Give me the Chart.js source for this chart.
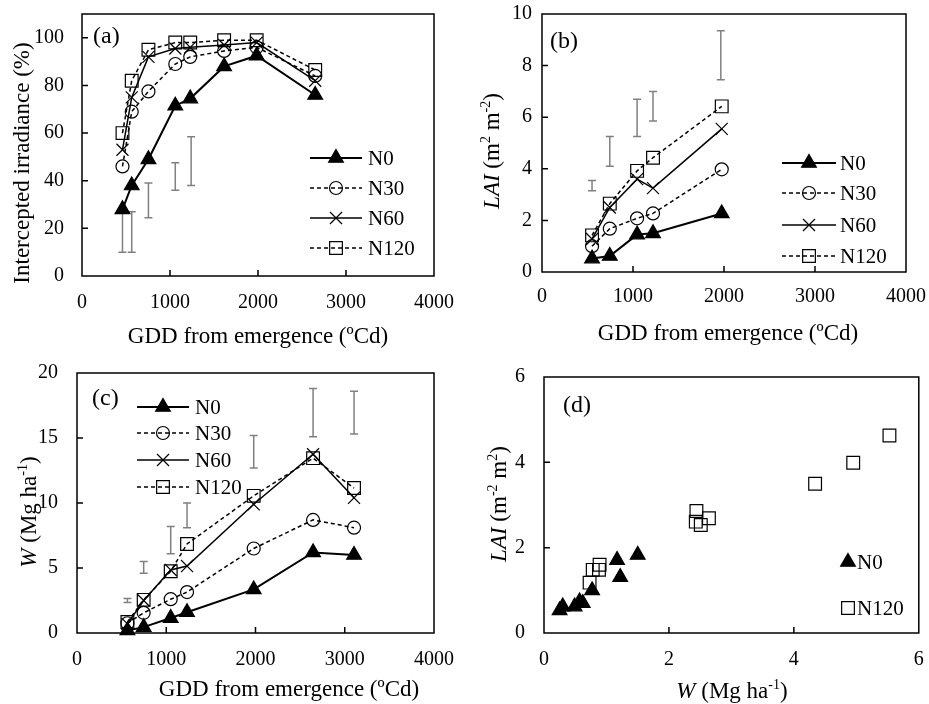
<!DOCTYPE html>
<html>
<head>
<meta charset="utf-8">
<title>Canopy growth under nitrogen rates</title>
<script src="https://cdn.jsdelivr.net/npm/chart.js@4.4.1/dist/chart.umd.min.js"></script>
<style>
  body { margin: 0; background: #fff; }
  #fig { position: relative; width: 929px; height: 704px; background: #fff; }
  .panel { position: absolute; }
</style>
</head>
<body>
<div id="fig">
  <div class="panel" style="left:0;top:0;width:464px;height:350px"><canvas id="chartA"></canvas></div>
  <div class="panel" style="left:464px;top:0;width:465px;height:350px"><canvas id="chartB"></canvas></div>
  <div class="panel" style="left:0;top:350px;width:464px;height:354px"><canvas id="chartC"></canvas></div>
  <div class="panel" style="left:464px;top:350px;width:465px;height:354px"><canvas id="chartD"></canvas></div>
</div>
<script>
// ---- data -------------------------------------------------------------
const seriesNames = ["N0", "N30", "N60", "N120"];

// (a) intercepted irradiance (%) vs GDD
const gddA = [460, 565, 755, 1060, 1230, 1615, 1985, 2650];
const irrN0 = [28, 38, 49, 71.5, 74.5, 88, 92.5, 76];
const irrN30 = [46, 69, 77.5, 89, 92, 94.5, 96, 84];
const irrN60 = [53, 75, 92, 95.5, 96, 97, 98, 82];
const irrN120 = [60, 82, 95, 98, 98, 99, 99, 86.5];
const errGddA = [460, 565, 755, 1060, 1240];
const errLoA = [10, 10, 24.5, 36, 38];
const errHiA = [27.5, 27, 39, 47.5, 58.5];

// (b) LAI vs GDD
const gddB = [550, 745, 1045, 1220, 1975];
const laiN0 = [0.52, 0.62, 1.45, 1.5, 2.27];
const laiN30 = [1.0, 1.68, 2.08, 2.27, 3.98];
const laiN60 = [1.28, 2.5, 3.6, 3.25, 5.55];
const laiN120 = [1.42, 2.65, 3.92, 4.43, 6.42];
const errGddB = [550, 745, 1045, 1220, 1965];
const errLoB = [3.15, 4.1, 5.25, 5.85, 7.45];
const errHiB = [3.55, 5.25, 6.7, 7.0, 9.35];

// (c) biomass W (Mg/ha) vs GDD
const gddC = [565, 747, 1050, 1233, 1980, 2645, 3104];
const wN0 = [0.2, 0.45, 1.15, 1.6, 3.35, 6.2, 6.0];
const wN30 = [0.75, 1.55, 2.6, 3.15, 6.5, 8.7, 8.1];
const wN60 = [0.7, 2.5, 4.85, 5.15, 9.9, 13.75, 10.4];
const wN120 = [0.85, 2.55, 4.75, 6.85, 10.55, 13.45, 11.15];
const errGddC = [565, 747, 1050, 1233, 1980, 2645, 3104];
const errLoC = [2.35, 4.6, 6.1, 8.1, 12.7, 15.1, 15.3];
const errHiC = [2.65, 5.5, 8.2, 10.0, 15.2, 18.8, 18.6];

// (d) LAI vs W
const wD0 = [0.25, 0.30, 0.49, 0.57, 0.62, 0.77, 1.17, 1.22, 1.50];
const laiD0 = [0.53, 0.62, 0.62, 0.74, 0.70, 1.0, 1.71, 1.31, 1.83];
const wD120 = [0.73, 0.78, 0.88, 0.89, 2.44, 2.43, 2.51, 2.64, 4.34, 4.95, 5.53];
const laiD120 = [1.18, 1.48, 1.48, 1.60, 2.86, 2.61, 2.53, 2.69, 3.50, 3.99, 4.63];

// tick values
const gddTicks = [0, 1000, 2000, 3000, 4000];
const irrTicks = [0, 20, 40, 60, 80, 100];
const laiTicks = [0, 2, 4, 6, 8, 10];
const wTicks = [0, 5, 10, 15, 20];
const wTicksD = [0, 2, 4, 6];
const laiTicksD = [0, 2, 4, 6];

// ---- styles -----------------------------------------------------------
const SERIF = "'Liberation Serif', 'Times New Roman', serif";
const ERR_COLOR = "#808080";

const markerStyles = {
  N0: { pointStyle: "triangle", pointRadius: 8.5, pointBackgroundColor: "#000", borderWidth: 2, borderDash: [] },
  N30: { pointStyle: "circle", pointRadius: 6.5, pointBackgroundColor: "rgba(0,0,0,0)", borderWidth: 1.5, borderDash: [4, 3] },
  N60: { pointStyle: "crossRot", pointRadius: 8.5, pointBackgroundColor: "rgba(0,0,0,0)", borderWidth: 1.5, borderDash: [] },
  N120: { pointStyle: "rect", pointRadius: 9, pointBackgroundColor: "rgba(0,0,0,0)", borderWidth: 1.5, borderDash: [4, 3] }
};

const toPoints = (xs, ys) => xs.map((x, i) => ({ x: x, y: ys[i] }));

const makeDataset = (name, xs, ys, showLine) => Object.assign({
  label: name,
  data: toPoints(xs, ys),
  showLine: showLine,
  borderColor: "#000",
  pointBorderColor: "#000",
  pointBorderWidth: 1.2,
  tension: 0,
  clip: false
}, markerStyles[name]);

// text with italic parts and superscripts, centred on (cx, cy)
function drawRich(ctx, segs, cx, cy, size, rotate) {
  const supSize = Math.round(size * 0.62);
  const fontOf = s => (s.i ? "italic " : "") + (s.sup ? supSize : size) + "px " + SERIF;
  ctx.save();
  ctx.translate(cx, cy);
  if (rotate) ctx.rotate(-Math.PI / 2);
  let total = 0;
  const widths = segs.map(s => {
    ctx.font = fontOf(s);
    const w = ctx.measureText(s.t).width;
    total += w;
    return w;
  });
  let x = -total / 2;
  const base = size * 0.34;
  ctx.fillStyle = "#000";
  ctx.textBaseline = "alphabetic";
  ctx.textAlign = "left";
  segs.forEach((s, i) => {
    ctx.font = fontOf(s);
    ctx.fillText(s.t, x, s.sup ? base - size * 0.4 : base);
    x += widths[i];
  });
  ctx.restore();
}

function drawMarker(ctx, ds, x, y) {
  ctx.save();
  ctx.setLineDash([]);
  ctx.fillStyle = ds.pointBackgroundColor;
  ctx.strokeStyle = "#000";
  ctx.lineWidth = ds.pointBorderWidth;
  Chart.helpers.drawPoint(ctx, {
    pointStyle: ds.pointStyle,
    radius: ds.pointRadius,
    rotation: 0,
    borderWidth: ds.pointBorderWidth
  }, x, y);
  ctx.restore();
}

// frame, inward ticks, error bars, legend, labels
const panelDecor = {
  id: "panelDecor",
  beforeDatasetsDraw(chart, args, opts) {
    const eb = opts.errors;
    if (!eb) return;
    const { ctx, scales: { x, y } } = chart;
    ctx.save();
    ctx.strokeStyle = ERR_COLOR;
    ctx.lineWidth = 1.5;
    eb.x.forEach((gx, i) => {
      const px = x.getPixelForValue(gx);
      const lo = y.getPixelForValue(eb.lo[i]);
      const hi = y.getPixelForValue(eb.hi[i]);
      ctx.beginPath();
      ctx.moveTo(px, lo); ctx.lineTo(px, hi);
      ctx.moveTo(px - 4, lo); ctx.lineTo(px + 4, lo);
      ctx.moveTo(px - 4, hi); ctx.lineTo(px + 4, hi);
      ctx.stroke();
    });
    ctx.restore();
  },
  afterDraw(chart, args, opts) {
    const { ctx, chartArea: a, scales: { x, y } } = chart;
    ctx.save();
    ctx.strokeStyle = "#000";
    ctx.lineWidth = 1.5;
    ctx.strokeRect(a.left, a.top, a.right - a.left, a.bottom - a.top);
    ctx.beginPath();
    x.ticks.forEach(t => {
      const px = x.getPixelForValue(t.value);
      if (px > a.left + 1 && px < a.right - 1) { ctx.moveTo(px, a.bottom); ctx.lineTo(px, a.bottom - 6); }
    });
    y.ticks.forEach(t => {
      const py = y.getPixelForValue(t.value);
      if (py > a.top + 1 && py < a.bottom - 1) { ctx.moveTo(a.left, py); ctx.lineTo(a.left + 6, py); }
    });
    ctx.stroke();

    // panel letter
    ctx.fillStyle = "#000";
    ctx.font = "24px " + SERIF;
    ctx.textBaseline = "middle";
    ctx.textAlign = "left";
    ctx.fillText(opts.label.text, opts.label.x, opts.label.y);

    drawRich(ctx, opts.yTitle.segs, opts.yTitle.x, opts.yTitle.y, 23, true);
    drawRich(ctx, opts.xTitle.segs, opts.xTitle.x, opts.xTitle.y, 23, false);

    // legend
    const lg = opts.legend;
    chart.data.datasets.forEach((ds, i) => {
      const ly = lg.rows[i];
      if (!lg.markerOnly) {
        ctx.save();
        ctx.strokeStyle = "#000";
        ctx.lineWidth = ds.borderWidth;
        ctx.setLineDash(ds.borderDash);
        ctx.beginPath();
        ctx.moveTo(lg.x0, ly); ctx.lineTo(lg.x1, ly);
        ctx.stroke();
        ctx.restore();
      }
      drawMarker(ctx, ds, lg.marker, ly);
      ctx.fillStyle = "#000";
      ctx.font = "21px " + SERIF;
      ctx.textBaseline = "middle";
      ctx.textAlign = "left";
      ctx.fillText(ds.label, lg.text, ly + 1);
    });
    ctx.restore();
  }
};

function makeScales(xr, yr) {
  const tickFont = { family: SERIF, size: 20 };
  const axis = (r, horiz) => ({
    type: "linear",
    min: r.min,
    max: r.max,
    afterBuildTicks: s => { s.ticks = r.ticks.map(v => ({ value: v })); },
    afterFit: s => {
      // fixed axis box; no extra room for overhanging labels
      if (horiz) s.height = r.size; else s.width = r.size;
      s.paddingTop = 0; s.paddingBottom = 0;
      s.paddingLeft = 0; s.paddingRight = 0;
    },
    grid: { display: false, drawTicks: false },
    border: { display: false },
    ticks: {
      font: tickFont,
      color: "#000",
      padding: r.pad,
      maxRotation: 0,
      autoSkip: false,
      callback: v => String(v)
    }
  });
  return { x: axis(xr, true), y: axis(yr, false) };
}

function makeChart(id, datasets, scales, padding, decor) {
  return new Chart(document.getElementById(id), {
    type: "scatter",
    data: { datasets: datasets },
    options: {
      responsive: true,
      maintainAspectRatio: false,
      animation: false,
      layout: { padding: padding },
      scales: scales,
      plugins: {
        legend: { display: false },
        tooltip: { enabled: false },
        panelDecor: decor
      },
      events: []
    },
    plugins: [panelDecor]
  });
}

const gddTitle = [{ t: "GDD from emergence (ºCd)" }];
const wTitle = [{ t: "W", i: true }, { t: " (Mg ha" }, { t: "-1", sup: true }, { t: ")" }];

// (a)
makeChart("chartA",
  [makeDataset("N0", gddA, irrN0, true), makeDataset("N30", gddA, irrN30, true),
   makeDataset("N60", gddA, irrN60, true), makeDataset("N120", gddA, irrN120, true)],
  makeScales({ min: 0, max: 4000, ticks: gddTicks, size: 74, pad: 15 },
             { min: 0, max: 110, ticks: irrTicks, size: 82, pad: 18 }),
  { top: 14, right: 30, left: 0, bottom: 0 },
  {
    label: { text: "(a)", x: 93, y: 37 },
    yTitle: { segs: [{ t: "Intercepted irradiance (%)" }], x: 21, y: 163 },
    xTitle: { segs: gddTitle, x: 258, y: 335 },
    legend: { x0: 310, x1: 362, marker: 336, text: 368, rows: [158, 188, 218, 248] },
    errors: { x: errGddA, lo: errLoA, hi: errHiA }
  });

// (b)
makeChart("chartB",
  [makeDataset("N0", gddB, laiN0, true), makeDataset("N30", gddB, laiN30, true),
   makeDataset("N60", gddB, laiN60, true), makeDataset("N120", gddB, laiN120, true)],
  makeScales({ min: 0, max: 4000, ticks: gddTicks, size: 78, pad: 13 },
             { min: 0, max: 10, ticks: laiTicks, size: 78, pad: 10 }),
  { top: 14, right: 23, left: 0, bottom: 0 },
  {
    label: { text: "(b)", x: 86, y: 42 },
    yTitle: { segs: [{ t: "LAI", i: true }, { t: " (m" }, { t: "2", sup: true }, { t: " m" }, { t: "-2", sup: true }, { t: ")" }], x: 27, y: 151 },
    xTitle: { segs: gddTitle, x: 264, y: 332 },
    legend: { x0: 318, x1: 372, marker: 345, text: 376, rows: [163, 193, 225, 256] },
    errors: { x: errGddB, lo: errLoB, hi: errHiB }
  });

// (c)
makeChart("chartC",
  [makeDataset("N0", gddC, wN0, true), makeDataset("N30", gddC, wN30, true),
   makeDataset("N60", gddC, wN60, true), makeDataset("N120", gddC, wN120, true)],
  makeScales({ min: 0, max: 4000, ticks: gddTicks, size: 71, pad: 15 },
             { min: 0, max: 20, ticks: wTicks, size: 77, pad: 19 }),
  { top: 23, right: 30, left: 0, bottom: 0 },
  {
    label: { text: "(c)", x: 92, y: 49 },
    yTitle: { segs: wTitle, x: 28, y: 162 },
    xTitle: { segs: gddTitle, x: 289, y: 338 },
    legend: { x0: 137, x1: 189, marker: 163, text: 195, rows: [57, 83, 110, 137] },
    errors: { x: errGddC, lo: errLoC, hi: errHiC }
  });

// (d)
makeChart("chartD",
  [makeDataset("N0", wD0, laiD0, false), makeDataset("N120", wD120, laiD120, false)],
  makeScales({ min: 0, max: 6, ticks: wTicksD, size: 71, pad: 15 },
             { min: 0, max: 6, ticks: laiTicksD, size: 80, pad: 19 }),
  { top: 27, right: 8, left: 0, bottom: 0 },
  {
    label: { text: "(d)", x: 99, y: 56 },
    yTitle: { segs: [{ t: "LAI", i: true }, { t: " (m" }, { t: "-2", sup: true }, { t: " m" }, { t: "2", sup: true }, { t: ")" }], x: 34, y: 154 },
    xTitle: { segs: wTitle, x: 268, y: 340 },
    legend: { markerOnly: true, marker: 384, text: 393, rows: [212, 258] }
  });
</script>
</body>
</html>
